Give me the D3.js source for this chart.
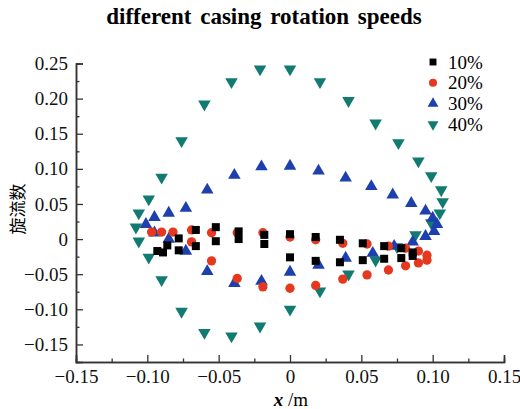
<!DOCTYPE html>
<html>
<head>
<meta charset="utf-8">
<script src="https://cdn.jsdelivr.net/npm/d3@7"></script>
<style>
  body { margin: 0; background: #fff; }
  svg { display: block; }
</style>
</head>
<body>
<svg class="chart" width="520" height="409"></svg>
<script>
const width = 520;
const height = 409;
const svg = d3.select(".chart");

// series: [x, y]
const s10 = [
  [-0.093, -0.017], [-0.089, -0.019], [-0.086, -0.009], [-0.078, 0.001], [-0.078, -0.016],
  [-0.066, 0.013], [-0.066, -0.010], [-0.052, 0.017], [-0.052, -0.003], [-0.036, 0.011],
  [-0.036, 0.000], [-0.018, 0.006], [-0.018, -0.007], [0.000, 0.007], [0.000, -0.026],
  [0.018, 0.003], [0.018, -0.031], [0.035, -0.001], [0.035, -0.033], [0.051, -0.006],
  [0.051, -0.030], [0.066, -0.010], [0.066, -0.028], [0.078, -0.013], [0.078, -0.027],
  [0.086, -0.019], [0.086, -0.024]
];
const s20 = [
  [-0.097, 0.010], [-0.090, 0.010], [-0.082, 0.010], [-0.069, 0.013], [-0.055, 0.009],
  [-0.037, 0.009], [-0.019, 0.009], [0.000, 0.003], [0.018, -0.001], [0.037, -0.006],
  [0.054, -0.007], [0.069, -0.010], [0.081, -0.013], [0.090, -0.017], [0.096, -0.023],
  [0.096, -0.030], [0.090, -0.034], [0.081, -0.038], [0.069, -0.044], [0.054, -0.051],
  [0.037, -0.057], [0.018, -0.066], [0.000, -0.070], [-0.019, -0.068], [-0.037, -0.056],
  [-0.055, -0.031], [-0.069, -0.004]
];
const s30 = [
  [-0.058, 0.070], [-0.039, 0.091], [-0.020, 0.103], [0.000, 0.104], [0.020, 0.097],
  [0.039, 0.087], [0.057, 0.075], [0.072, 0.063], [0.085, 0.051], [0.095, 0.040],
  [0.100, 0.030], [0.103, 0.021], [0.101, 0.011], [0.095, 0.004], [0.086, -0.004],
  [0.073, -0.010], [0.058, -0.020], [0.039, -0.027], [0.020, -0.037], [0.000, -0.047],
  [-0.020, -0.060], [-0.039, -0.063], [-0.058, -0.046], [-0.073, -0.017], [-0.085, 0.000],
  [-0.095, 0.009], [-0.101, 0.021], [-0.095, 0.031], [-0.085, 0.037], [-0.073, 0.044]
];
const s40 = [
  [-0.090, 0.088], [-0.099, 0.057], [-0.106, 0.037], [-0.108, 0.017], [-0.106, -0.003],
  [-0.099, -0.026], [-0.090, -0.058], [-0.076, -0.103], [-0.060, -0.133], [-0.041, -0.138],
  [-0.021, -0.124], [0.000, -0.100], [0.021, -0.074], [0.041, -0.050], [0.060, -0.030],
  [0.075, -0.011], [0.088, 0.006], [0.099, 0.023], [0.105, 0.037], [0.107, 0.053],
  [0.106, 0.070], [0.099, 0.090], [0.090, 0.111], [0.076, 0.137], [0.060, 0.165],
  [0.041, 0.197], [0.021, 0.224], [0.000, 0.242], [-0.021, 0.242], [-0.041, 0.224],
  [-0.060, 0.192], [-0.076, 0.140]
];

const seriesNames = ["10%", "20%", "30%", "40%"];
const xTicks = [-0.15, -0.10, -0.05, 0, 0.05, 0.10, 0.15];
const yTicks = [-0.15, -0.10, -0.05, 0, 0.05, 0.10, 0.15, 0.20, 0.25];
const tickFmt = d => d === 0 ? "0" : d3.format(".2f")(d);

const serif = "'Liberation Serif', 'DejaVu Serif', serif";

const x = d3.scaleLinear().domain([-0.15, 0.15]).range([76, 504]);
const y = d3.scaleLinear().domain([-0.175, 0.25]).range([362, 63.5]);

// 标题
svg.append("text")
  .attr("x", 264).attr("y", 24)
  .attr("text-anchor", "middle")
  .style("font-family", serif).style("font-weight", "bold").style("font-size", "23px")
  .style("word-spacing", "3px")
  .text("different casing rotation speeds");

// 坐标轴 (刻度朝内)
const xAxis = d3.axisBottom(x).tickValues(xTicks).tickFormat(tickFmt).tickSize(-7).tickPadding(8);
const gx = svg.append("g").attr("transform", `translate(0,${y.range()[0]})`).call(xAxis);
const xMinor = d3.axisBottom(x).tickValues(d3.range(-0.125, 0.15, 0.05)).tickFormat("").tickSize(-3.5);
const gxm = svg.append("g").attr("transform", `translate(0,${y.range()[0]})`).call(xMinor);

const yAxis = d3.axisLeft(y).tickValues(yTicks).tickFormat(tickFmt).tickSize(-7).tickPadding(8);
const gy = svg.append("g").attr("transform", `translate(${x.range()[0]},0)`).call(yAxis);
const yMinor = d3.axisLeft(y).tickValues(d3.range(-0.125, 0.25, 0.05)).tickFormat("").tickSize(-3.5);
const gym = svg.append("g").attr("transform", `translate(${x.range()[0]},0)`).call(yMinor);

[gx, gxm, gy, gym].forEach(g => {
  g.select(".domain").attr("stroke", "#333").attr("stroke-width", 1.5);
  g.selectAll("line").attr("stroke", "#333").attr("stroke-width", 1.3);
  g.selectAll("text").style("font-family", serif).style("font-size", "19px").attr("fill", "#111");
});

// 轴标题
svg.append("text")
  .attr("transform", "translate(24,209) rotate(-90)")
  .attr("text-anchor", "middle")
  .style("font-family", "'Noto Sans CJK SC', sans-serif").style("font-size", "17px")
  .text("旋流数");

const xl = svg.append("text")
  .attr("x", 291).attr("y", 406)
  .attr("text-anchor", "middle")
  .style("font-family", serif).style("font-size", "19px");
xl.append("tspan").style("font-weight", "bold").style("font-style", "italic").text("x");
xl.append("tspan").text(" /m");

// 散点
const styles = [
  { data: s10, type: d3.symbolSquare, size: 64, color: "#000000", rot: 0 },
  { data: s20, type: d3.symbolCircle, size: 68, color: "#e5391f", rot: 0 },
  { data: s30, type: d3.symbolTriangle, size: 68, color: "#1e3fae", rot: 0 },
  { data: s40, type: d3.symbolTriangle, size: 68, color: "#117b71", rot: 180 }
];

[3, 2, 1, 0].forEach(i => {
  const st = styles[i];
  const sym = d3.symbol().type(st.type).size(st.size);
  svg.append("g").selectAll("path")
    .data(st.data)
    .enter()
    .append("path")
    .attr("d", sym)
    .attr("transform", d => `translate(${x(d[0])},${y(d[1])}) rotate(${st.rot})`)
    .attr("fill", st.color);
});

// 图例
const legend = svg.append("g").attr("transform", "translate(433,62)");
const items = legend.selectAll("g")
  .data(seriesNames)
  .enter()
  .append("g")
  .attr("transform", (d, i) => `translate(0,${i * 20.8})`);
items.append("path")
  .attr("d", (d, i) => d3.symbol().type(styles[i].type).size(styles[i].size * 0.75)())
  .attr("transform", (d, i) => `rotate(${styles[i].rot})`)
  .attr("fill", (d, i) => styles[i].color);
items.append("text")
  .attr("x", 15).attr("y", 6.5)
  .style("font-family", serif).style("font-size", "19px")
  .text(d => d);
</script>
</body>
</html>
